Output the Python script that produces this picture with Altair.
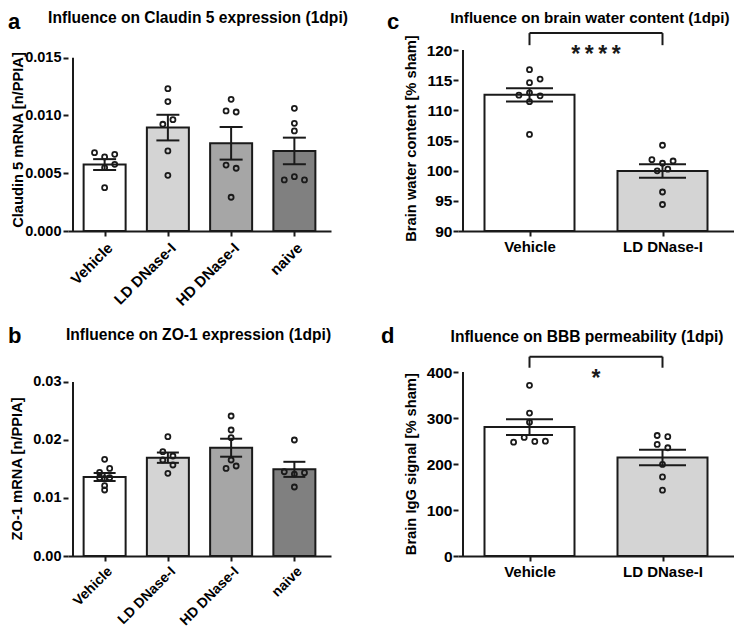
import json
import altair as alt
import pandas as pd

FONT = "Liberation Sans, Arial, Helvetica, sans-serif"
INK = "#1a1a1a"

# ---------------- data ----------------
groups4 = ["Vehicle", "LD DNase-I", "HD DNase-I", "naive"]
groups2 = ["Vehicle", "LD DNase-I"]
fills4 = ["#ffffff", "#d4d4d4", "#a6a6a6", "#808080"]
fills2 = ["#ffffff", "#d4d4d4"]

# a: Claudin 5 mRNA [n/PPIA]
cld_mean = [0.00575, 0.00895, 0.00759, 0.00693]
cld_sem = [0.00047, 0.00111, 0.00141, 0.00115]
cld_pts = [
    [0.00678, 0.00641, 0.00664, 0.00577, 0.00548, 0.00375],
    [0.01232, 0.01120, 0.00924, 0.00964, 0.00693, 0.00482],
    [0.01140, 0.01039, 0.01030, 0.00571, 0.00543, 0.00292],
    [0.01062, 0.00932, 0.00866, 0.00442, 0.00470, 0.00442],
]
cld_slot = [
    [-1, 0, 1, 1, 0, 0],
    [0, 0, -0.5, 0.5, 0, 0],
    [0, -0.5, 0.5, -0.5, 0.5, 0],
    [0, 0, 0, -1, 0, 1],
]

# b: ZO-1 mRNA [n/PPIA]
zo_mean = [0.01362, 0.01695, 0.01867, 0.01494]
zo_sem = [0.00069, 0.00089, 0.00155, 0.00130]
zo_pts = [
    [0.01666, 0.01510, 0.01441, 0.01350, 0.01338, 0.01350, 0.01212, 0.01138],
    [0.02057, 0.01798, 0.01724, 0.01655, 0.01569, 0.01425],
    [0.02414, 0.02172, 0.02040, 0.01655, 0.01510, 0.01552],
    [0.02000, 0.01453, 0.01413, 0.01436, 0.01190],
]
zo_slot = [
    [0, 0.5, -0.5, -0.5, 0, 0.5, 0, 0],
    [0, -0.5, 0.5, -0.5, 0.5, 0],
    [0, 0, 0, 0, -0.5, 0.5],
    [0, -1, 0, 1, 0],
]

# c: Brain water content [% sham]
bwc_mean = [112.57, 99.93]
bwc_sem = [1.11, 1.12]
bwc_pts = [
    [116.74, 115.18, 114.58, 112.51, 112.90, 112.41, 111.43, 106.00],
    [104.21, 101.83, 101.60, 101.23, 99.98, 100.25, 96.46, 94.39],
]
bwc_slot = [[0, 1, 0, -1, 0, 1, 0, 0], [0, -1, 1, 0, -0.5, 0.5, 0, 0]]

# d: Brain IgG signal [% sham]
igg_mean = [280.2, 214.2]
igg_sem = [17.0, 17.0]
igg_pts = [
    [371.0, 310.7, 291.0, 247.5, 257.7, 249.0, 249.7],
    [262.0, 259.3, 242.5, 235.3, 199.0, 172.0, 143.0],
]
igg_slot = [[0, 0, 0, -1.5, -0.5, 0.5, 1.5], [-0.5, 0.5, -0.5, 0.5, 0, 0, 0]]


def panel(cats, fills, means, sems, pts, slots, cfg):
    n = len(cats)
    W, H = cfg["width"], cfg["height"]
    step = W / n
    ymin, ymax = cfg["ydomain"]
    xs = alt.Scale(domain=[-0.5, n - 0.5], nice=False, zero=False)
    ys = alt.Scale(domain=[ymin, ymax], nice=False, zero=False)

    bars = pd.DataFrame({
        "pos": list(range(n)),
        "cat": cats,
        "mean": means,
        "lo": [m - s for m, s in zip(means, sems)],
        "hi": [m + s for m, s in zip(means, sems)],
    })
    caps = pd.DataFrame({
        "pos": list(range(n)) * 2,
        "yv": list(bars["lo"]) + list(bars["hi"]),
    })
    rows = []
    for i, (vals, sl) in enumerate(zip(pts, slots)):
        for v, s in zip(vals, sl):
            rows.append({"px": i + s * cfg["slot_px"] / step, "v": v})
    points = pd.DataFrame(rows)

    rot = cfg["xangle"] != 0
    xaxis = alt.Axis(
        values=list(range(n)),
        labelExpr=json.dumps(cats) + "[datum.value]",
        title=None, grid=False,
        domainColor=INK, domainWidth=2,
        tickColor=INK, tickWidth=2, tickSize=5,
        labelColor="black", labelFont=FONT, labelFontSize=cfg.get("xlab", 15),
        labelFontWeight="bold", labelAngle=cfg["xangle"],
        labelAlign="right" if rot else "center", labelBaseline="top",
        labelPadding=cfg["xlabpad"], labelOverlap=False, labelFlush=False,
    )
    yaxis = alt.Axis(
        values=cfg["yticks"], format=cfg["yfmt"], domain=False, grid=False,
        tickColor=INK, tickWidth=2, tickSize=5,
        labelColor="black", labelFont=FONT, labelFontSize=cfg["ylab"],
        labelFontWeight="bold", labelPadding=cfg["ylabpad"],
        labelFlush=False, labelOverlap=False,
        title=cfg["ytitle"], titleFont=FONT, titleFontSize=14.7,
        titleFontWeight="bold", titleColor="black",
        titleX=cfg["ytx"], titleY=cfg["yty"], titleAngle=270,
        titleAlign="center", titleBaseline="middle",
    )

    def X(f):
        return alt.X(f, scale=xs, axis=xaxis)

    def Y(f):
        return alt.Y(f, scale=ys, axis=yaxis)

    layers = []
    layers.append(
        alt.Chart(bars).mark_bar(size=cfg["bar_px"], stroke=INK, strokeWidth=2).encode(
            x=X("pos:Q"),
            y=Y("mean:Q"),
            y2=alt.datum(ymin),
            color=alt.Color("cat:N", scale=alt.Scale(domain=cats, range=fills), legend=None),
        )
    )
    layers.append(
        alt.Chart(bars).mark_rule(color=INK, strokeWidth=2).encode(
            x=X("pos:Q"), y=Y("lo:Q"), y2="hi:Q")
    )
    layers.append(
        alt.Chart(caps).mark_tick(orient="horizontal", size=cfg["cap_px"], thickness=2,
                                  color=INK, opacity=1).encode(x=X("pos:Q"), y=Y("yv:Q"))
    )
    layers.append(
        alt.Chart(points).mark_point(shape="circle", filled=False, size=25, strokeWidth=1.8,
                                     color=INK, opacity=1).encode(x=X("px:Q"), y=Y("v:Q"))
    )
    yline = pd.DataFrame({"x0": [-0.5], "a": [ymin], "b": [cfg["ytop"]]})
    layers.append(
        alt.Chart(yline).mark_rule(color=INK, strokeWidth=2).encode(
            x=X("x0:Q"), y=Y("a:Q"), y2="b:Q")
    )
    if cfg.get("bracket"):
        by, lb, sy, stxt = cfg["bracket"]
        br = pd.DataFrame({"x": [0, 0, 1], "x2": [1, 0, 1], "y": [by, lb, lb], "y2": [by, by, by]})
        layers.append(
            alt.Chart(br).mark_rule(color=INK, strokeWidth=2).encode(
                x=X("x:Q"), x2="x2:Q", y=Y("y:Q"), y2="y2:Q")
        )
        st = pd.DataFrame({"x": [0.5], "y": [sy], "t": [stxt]})
        layers.append(
            alt.Chart(st).mark_text(font=FONT, fontSize=23, fontWeight="bold", color=INK,
                                    align="center", baseline="alphabetic").encode(
                x=X("x:Q"), y=Y("y:Q"), text="t:N")
        )
    lx, ly = cfg["letter_xy"]
    layers.append(
        alt.Chart(pd.DataFrame({"t": [cfg["letter"]]})).mark_text(
            font=FONT, fontSize=22, fontWeight="bold", color="black",
            align="left", baseline="alphabetic").encode(
            x=alt.value(lx), y=alt.value(ly), text="t:N")
    )
    tx, ty = cfg["title_xy"]
    layers.append(
        alt.Chart(pd.DataFrame({"t": [cfg["title"]]})).mark_text(
            font=FONT, fontSize=cfg.get("title_size", 15.6), fontWeight="bold", color="black",
            align="center", baseline="alphabetic").encode(
            x=alt.value(tx), y=alt.value(ty), text="t:N")
    )
    return alt.layer(*layers).properties(width=W, height=H)


pa = panel(groups4, fills4, cld_mean, cld_sem, cld_pts, cld_slot, dict(
    width=263, height=181, ydomain=[0, 0.015667], ytop=0.015,
    yticks=[0, 0.005, 0.010, 0.015], yfmt=".3f", ylab=14.5, ylabpad=2,
    ytitle="Claudin 5 mRNA [n/PPIA]", ytx=-50, yty=89.5,
    bar_px=42, cap_px=23, slot_px=10.5, xangle=315, xlabpad=4,
    letter="a", letter_xy=(-60, -21.5),
    title="Influence on Claudin 5 expression (1dpi)", title_xy=(130, -27)))

pb = panel(groups4, fills4, zo_mean, zo_sem, zo_pts, zo_slot, dict(
    width=263, height=184, ydomain=[0, 0.031724], ytop=0.03,
    yticks=[0, 0.01, 0.02, 0.03], yfmt=".2f", ylab=14.5, ylabpad=2,
    ytitle="ZO-1 mRNA [n/PPIA]", ytx=-51, yty=96.4,
    bar_px=42, cap_px=22, slot_px=10.5, xangle=315, xlabpad=3, xlab=14,
    letter="b", letter_xy=(-60, -28.6),
    title="Influence on ZO-1 expression (1dpi)", title_xy=(130.5, -31.8)))

pc = panel(groups2, fills2, bwc_mean, bwc_sem, bwc_pts, bwc_slot, dict(
    width=276, height=181, ydomain=[90, 120], ytop=120,
    yticks=[90, 95, 100, 105, 110, 115, 120], yfmt="d", ylab=15.5, ylabpad=1,
    ytitle="Brain water content [% sham]", ytx=-47, yty=88,
    bar_px=90, cap_px=47, slot_px=11, xangle=0, xlabpad=3,
    bracket=(122.8, 120.8, 118.0, "*\u2009*\u2009*\u2009*"),
    letter="c", letter_xy=(-71, -21.5),
    title="Influence on brain water content (1dpi)", title_xy=(132, -27),
    title_size=15.2))

pd_ = panel(groups2, fills2, igg_mean, igg_sem, igg_pts, igg_slot, dict(
    width=276, height=184, ydomain=[0, 400], ytop=400,
    yticks=[0, 100, 200, 300, 400], yfmt="d", ylab=15.5, ylabpad=1,
    ytitle="Brain IgG signal [% sham]", ytx=-47, yty=91.7,
    bar_px=90, cap_px=47, slot_px=11, xangle=0, xlabpad=3,
    bracket=(433.3, 409.3, 368.5, "*"),
    letter="d", letter_xy=(-77, -28.6),
    title="Influence on BBB permeability (1dpi)", title_xy=(129, -30.3)))

chart = alt.concat(
    pa, pc, pb, pd_, columns=2, align="each", bounds="full",
    spacing={"row": 16, "column": 33},
).properties(
    padding={"left": 0, "top": 2, "right": 0, "bottom": 0},
    background="white",
).configure_view(stroke=None)

chart.save("out.html", embed_options={"renderer": "svg", "actions": False})
